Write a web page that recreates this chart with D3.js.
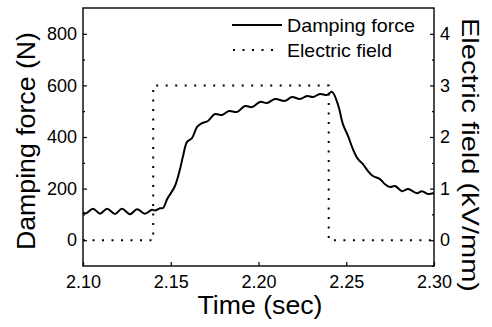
<!DOCTYPE html>
<html>
<head>
<meta charset="utf-8">
<script src="https://cdn.jsdelivr.net/npm/d3@7"></script>
<style>
  html, body { margin: 0; padding: 0; background: #fff; }
  svg { display: block; font-family: "Liberation Sans", Arial, Helvetica, sans-serif; }
</style>
</head>
<body>
<svg id="chart" width="492" height="327"></svg>
<script>
// ---- data ----
const forceTime = [2.1000, 2.1017, 2.1057, 2.1097, 2.1137, 2.1182, 2.1222, 2.1268, 2.1308, 2.1353,
  2.1393, 2.1410, 2.1439, 2.1456, 2.1479, 2.1490, 2.1524, 2.1553, 2.1570, 2.1593,
  2.1621, 2.1650, 2.1678, 2.1712, 2.1752, 2.1792, 2.1832, 2.1877, 2.1923, 2.1963,
  2.2009, 2.2048, 2.2094, 2.2151, 2.2191, 2.2236, 2.2276, 2.2311, 2.2350, 2.2390,
  2.2419, 2.2453, 2.2481, 2.2510, 2.2538, 2.2567, 2.2595, 2.2624, 2.2652, 2.2692,
  2.2721, 2.2749, 2.2778, 2.2818, 2.2852, 2.2903, 2.2932, 2.2966, 2.3000];
const forceValue = [108, 104, 122, 103, 122, 102, 122, 101, 120, 103,
  118, 115, 124, 125, 159, 171, 210, 276, 326, 381,
  396, 439, 454, 462, 489, 485, 501, 497, 520, 516,
  536, 532, 547, 540, 555, 547, 559, 555, 567, 563,
  575, 525, 450, 404, 353, 314, 295, 268, 249, 237,
  217, 206, 210, 190, 198, 182, 190, 179, 183];
const fieldTime = [2.10, 2.14, 2.14, 2.24, 2.24, 2.30];
const fieldValue = [0, 0, 3, 3, 0, 0];
const xTicks = [2.10, 2.15, 2.20, 2.25, 2.30];
const leftTicks = [0, 200, 400, 600, 800];
const leftMinor = [100, 300, 500, 700];
const rightTicks = [0, 1, 2, 3, 4];
const rightMinor = [-0.5, 0.5, 1.5, 2.5, 3.5];
const seriesNames = ["Damping force", "Electric field"];
const xTitle = "Time (sec)";
const leftTitle = "Damping force (N)";
const rightTitle = "Electric field (kV/mm)";

// ---- layout ----
const L = 83, R = 434, T = 8, B = 266;
const svg = d3.select("#chart");
const x = d3.scaleLinear().domain([2.10, 2.30]).range([L, R]);
const yL = d3.scaleLinear().domain([-100, 900]).range([B, T]);
const yR = d3.scaleLinear().domain([-0.5, 4.5]).range([B, T]);

function styleAxis(g) {
  g.select(".domain").remove();
  g.selectAll(".tick line").attr("stroke", "#000").attr("stroke-width", 1.2);
  g.selectAll("text").attr("fill", "#000").attr("font-size", 18);
}

// bottom axis
svg.append("g").attr("transform", `translate(0,${B})`)
  .call(d3.axisBottom(x).tickValues(xTicks).tickFormat(d3.format(".2f")).tickSize(-4).tickPadding(9))
  .call(styleAxis);
// left axis
svg.append("g").attr("transform", `translate(${L},0)`)
  .call(d3.axisLeft(yL).tickValues(leftTicks).tickFormat(d3.format("d")).tickSize(-4).tickPadding(6))
  .call(styleAxis);
svg.append("g").attr("transform", `translate(${L},0)`)
  .call(d3.axisLeft(yL).tickValues(leftMinor).tickSize(-2).tickFormat(""))
  .call(styleAxis);
// right axis
svg.append("g").attr("transform", `translate(${R},0)`)
  .call(d3.axisRight(yR).tickValues(rightTicks).tickFormat(d3.format("d")).tickSize(-4).tickPadding(6))
  .call(styleAxis);
svg.append("g").attr("transform", `translate(${R},0)`)
  .call(d3.axisRight(yR).tickValues(rightMinor).tickSize(-2).tickFormat(""))
  .call(styleAxis);

// frame
svg.append("rect").attr("x", L).attr("y", T).attr("width", R - L).attr("height", B - T)
  .attr("fill", "none").attr("stroke", "#000").attr("stroke-width", 1.4);

// electric field (dotted)
const fieldData = fieldTime.map((t, i) => ({ t, v: fieldValue[i] }));
svg.append("path").datum(fieldData)
  .attr("fill", "none").attr("stroke", "#000").attr("stroke-width", 2)
  .attr("stroke-dasharray", "2 7.5")
  .attr("d", d3.line().x(d => x(d.t)).y(d => yR(d.v)));

// damping force (solid)
const forceData = forceTime.map((t, i) => ({ t, v: forceValue[i] }));
svg.append("path").datum(forceData)
  .attr("fill", "none").attr("stroke", "#000").attr("stroke-width", 2)
  .attr("stroke-linejoin", "round")
  .attr("d", d3.line().curve(d3.curveCatmullRom).x(d => x(d.t)).y(d => yL(d.v)));

// legend
const legend = svg.append("g");
legend.append("line").attr("x1", 232).attr("x2", 282).attr("y1", 25).attr("y2", 25)
  .attr("stroke", "#000").attr("stroke-width", 2);
legend.append("text").attr("x", 287).attr("y", 32).attr("font-size", 19)
  .attr("textLength", 128).attr("lengthAdjust", "spacingAndGlyphs").text(seriesNames[0]);
legend.append("line").attr("x1", 233).attr("x2", 280).attr("y1", 50).attr("y2", 50)
  .attr("stroke", "#000").attr("stroke-width", 2).attr("stroke-dasharray", "2 7.5");
legend.append("text").attr("x", 287).attr("y", 57).attr("font-size", 19)
  .attr("textLength", 105).attr("lengthAdjust", "spacingAndGlyphs").text(seriesNames[1]);

// axis titles
svg.append("text").attr("x", 260).attr("y", 314).attr("text-anchor", "middle")
  .attr("font-size", 26).attr("textLength", 125).attr("lengthAdjust", "spacingAndGlyphs").text(xTitle);
svg.append("text").attr("transform", "translate(35,141) rotate(-90)").attr("text-anchor", "middle")
  .attr("font-size", 25).attr("textLength", 218).attr("lengthAdjust", "spacingAndGlyphs").text(leftTitle);
svg.append("text").attr("transform", "translate(462,155) rotate(90)").attr("text-anchor", "middle")
  .attr("font-size", 24).attr("textLength", 274).attr("lengthAdjust", "spacingAndGlyphs").text(rightTitle);
</script>
</body>
</html>
